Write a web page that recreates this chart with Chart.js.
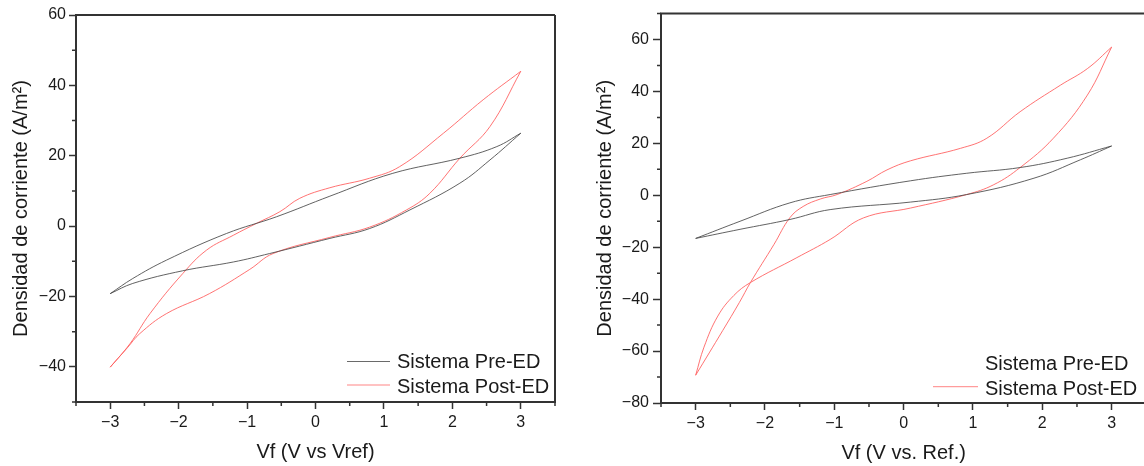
<!DOCTYPE html>
<html><head><meta charset="utf-8">
<script src="https://cdn.jsdelivr.net/npm/chart.js@4/dist/chart.umd.min.js"></script>
<style>
html,body{margin:0;padding:0;background:#fff;overflow:hidden;width:1144px;height:466px;position:relative;}
#c1{position:absolute;left:0;top:0;}
#c2{position:absolute;left:580px;top:0;}
</style></head><body>
<canvas id="c1" width="572" height="466"></canvas>
<canvas id="c2" width="580" height="466"></canvas>
<script>
// ---------- data ----------
const seriesNames = ['Sistema Pre-ED', 'Sistema Post-ED'];

// Left panel: Vf (V vs Vref) / current density (A/m2), closed CV loops
const leftPreV  = [-3, -2.67, -2.18, -1.30, -0.57, 0.21, 1.13, 2.11, 2.65, 3, 2.55, 2.11, 1.38, 0.79, 0.21, -0.67, -1.20, -1.94, -2.67, -3];
const leftPreJ  = [-19.2, -14.9, -9.7, -2.1, 2.65, 8.5, 15.0, 19.3, 22.6, 26.4, 18.8, 12.2, 4.6, -0.7, -3.5, -7.8, -10.2, -12.7, -16.3, -19.2];
const leftPostV = [-3, -2.71, -2.42, -1.94, -1.59, -1.20, -0.86, -0.52, -0.23, 0.21, 0.79, 1.23, 1.87, 2.45, 3, 2.55, 2.11, 1.67, 1.33, 0.79, 0.21, -0.62, -0.96, -1.55, -2.18, -2.57, -2.75, -3];
const leftPostJ = [-40.1, -33.4, -24.9, -13.5, -6.8, -2.6, 0.8, 4.1, 7.9, 10.9, 13.6, 16.9, 26.4, 35.9, 44.0, 28.3, 19.3, 9.3, 4.6, -0.3, -3.2, -7.8, -12.3, -19.2, -24.9, -30.6, -34.6, -40.1];

// Right panel: Vf (V vs. Ref.)
const rightPreV  = [-3, -2.36, -1.64, -1.06, 0.10, 0.91, 1.68, 2.36, 3, 2.55, 1.88, 0.91, 0.10, -1.06, -1.64, -2.36, -3];
const rightPreJ  = [-16.6, -10.0, -2.9, 0.3, 5.6, 8.5, 10.7, 14.3, 19.0, 13.7, 6.6, 0.3, -2.6, -5.5, -9.3, -13.1, -16.6];
const rightPostV = [-3, -2.61, -2.37, -2.21, -1.87, -1.64, -1.45, -1.20, -0.96, -0.53, -0.24, 0.10, 0.82, 1.20, 1.68, 2.26, 2.65, 3, 2.65, 2.16, 1.68, 1.30, 0.91, 0.10, -0.58, -1.06, -1.54, -2.21, -2.45, -2.68, -2.88, -3];
const rightPostJ = [-69.3, -52.1, -41.3, -33.6, -18.9, -8.6, -4.3, -1.4, 0.3, 5.4, 9.8, 13.3, 18.1, 22.0, 32.2, 42.4, 48.8, 57.1, 38.6, 22.0, 10.7, 4.1, 0.3, -4.9, -8.7, -17.0, -24.0, -33.6, -38.6, -46.5, -58.5, -69.3];

// ticks
const xMajor = [-3, -2, -1, 0, 1, 2, 3];
const xMinor = [-3.5, -2.5, -1.5, -0.5, 0.5, 1.5, 2.5, 3.5];
const leftYMajor = [-40, -20, 0, 20, 40, 60];
const leftYMinor = [-50, -30, -10, 10, 30, 50];
const rightYMajor = [-80, -60, -40, -20, 0, 20, 40, 60];
const rightYMinor = [-70, -50, -30, -10, 10, 30, 50, 70];

// ---------- drawing ----------
const FONT = '"Liberation Sans", Arial, Helvetica, sans-serif';
const AXIS = '#333333';
const TEXT = '#1a1a1a';
const seriesColors = ['rgba(70,70,70,0.85)', 'rgba(255,90,90,0.85)'];
const legendColors = ['rgba(90,90,90,0.9)', 'rgba(255,120,120,0.9)'];

function fmt(v) { return v < 0 ? '\u2212' + Math.abs(v) : String(v); }

function splitLoop(V, J) {
  const pts = V.map((v, i) => ({ x: v, y: J[i] }));
  let k = 0;
  V.forEach((v, i) => { if (v > V[k]) k = i; });
  return [pts.slice(0, k + 1), pts.slice(k)];
}

function makeDatasets(loops) {
  const ds = [];
  loops.forEach((lp, s) => {
    splitLoop(lp[0], lp[1]).forEach(branch => {
      ds.push({
        label: seriesNames[s], data: branch, showLine: true, fill: false,
        borderColor: seriesColors[s], borderWidth: 1, pointRadius: 0, tension: 0.4
      });
    });
  });
  return ds;
}

function decorPlugin(p) {
  return {
    id: 'decor',
    afterDraw(chart) {
      const ctx = chart.ctx, a = chart.chartArea;
      const xs = chart.scales.x, ys = chart.scales.y;
      ctx.save();
      // minor ticks
      ctx.strokeStyle = AXIS; ctx.lineWidth = 1.5;
      ctx.beginPath();
      xMinor.forEach(v => { const px = xs.getPixelForValue(v); ctx.moveTo(px, a.bottom); ctx.lineTo(px, a.bottom + 4); });
      p.yMinor.forEach(v => { const py = ys.getPixelForValue(v); ctx.moveTo(a.left, py); ctx.lineTo(a.left - 4, py); });
      ctx.stroke();
      // frame
      ctx.lineWidth = 2;
      ctx.beginPath();
      ctx.moveTo(a.left - 1, a.top); ctx.lineTo(a.right, a.top);
      if (p.rightBorder) { ctx.moveTo(a.right, a.top); ctx.lineTo(a.right, a.bottom); }
      ctx.stroke();
      // legend
      ctx.font = '20px ' + FONT;
      ctx.textBaseline = 'alphabetic';
      ctx.textAlign = 'left';
      seriesNames.forEach((name, i) => {
        if (p.legendLine[i]) {
          ctx.strokeStyle = legendColors[i]; ctx.lineWidth = 1;
          ctx.beginPath();
          ctx.moveTo(p.legX, p.legLineY[i]); ctx.lineTo(p.legX + p.legLen, p.legLineY[i]);
          ctx.stroke();
        }
        ctx.fillStyle = TEXT;
        ctx.fillText(name, p.legTextX, p.legBase[i]);
      });
      ctx.restore();
    }
  };
}

function makePanel(id, p) {
  new Chart(document.getElementById(id), {
    type: 'scatter',
    data: { datasets: makeDatasets(p.loops) },
    options: {
      responsive: false, animation: false, devicePixelRatio: 1,
      layout: { padding: { top: p.padTop, right: p.padRight, left: 0, bottom: 0 } },
      plugins: { legend: { display: false }, tooltip: { enabled: false } },
      scales: {
        x: {
          type: 'linear', min: -3.5, max: 3.5,
          afterBuildTicks: s => { s.ticks = xMajor.map(v => ({ value: v })); },
          afterFit: s => { s.height = p.xHeight; },
          ticks: { font: { family: FONT, size: 16 }, color: TEXT, padding: 4, callback: fmt, maxRotation: 0, autoSkip: false },
          grid: { drawOnChartArea: false, drawTicks: true, tickLength: 7, tickColor: AXIS, tickWidth: 1.5 },
          border: { display: true, color: AXIS, width: 2 },
          title: { display: true, text: p.xTitle, font: { family: FONT, size: 20 }, color: TEXT, padding: { top: 0, bottom: p.xTitlePad } }
        },
        y: {
          type: 'linear', min: p.yMin, max: p.yMax,
          afterBuildTicks: s => { s.ticks = p.yMajor.map(v => ({ value: v })); },
          afterFit: s => { s.width = p.yWidth; },
          ticks: { font: { family: FONT, size: 16 }, color: TEXT, padding: p.yTickPad, callback: fmt, autoSkip: false },
          grid: { drawOnChartArea: false, drawTicks: true, tickLength: p.yTickLen, tickColor: AXIS, tickWidth: 1.5 },
          border: { display: true, color: AXIS, width: 2 },
          title: { display: true, text: 'Densidad de corriente (A/m\u00B2)', font: { family: FONT, size: 20 }, color: TEXT, padding: { top: p.yTitlePad, bottom: 0 } }
        }
      }
    },
    plugins: [decorPlugin(p)]
  });
}

makePanel('c1', {
  loops: [[leftPreV, leftPreJ], [leftPostV, leftPostJ]],
  yMin: -50, yMax: 60, yMajor: leftYMajor, yMinor: leftYMinor,
  padTop: 15, padRight: 17, xHeight: 64, yWidth: 76,
  yTickPad: 3, yTickLen: 7, yTitlePad: 9.5, xTitlePad: 1.5,
  xTitle: 'Vf (V vs Vref)', rightBorder: true,
  legX: 347, legLen: 43, legTextX: 397, legLineY: [361.5, 385], legBase: [368, 392.5], legendLine: [true, true]
});

makePanel('c2', {
  loops: [[rightPreV, rightPreJ], [rightPostV, rightPostJ]],
  yMin: -80, yMax: 70, yMajor: rightYMajor, yMinor: rightYMinor,
  padTop: 11.7, padRight: 13.7, xHeight: 63, yWidth: 81,
  yTickPad: 4, yTickLen: 8, yTitlePad: 13, xTitlePad: 1,
  xTitle: 'Vf (V vs. Ref.)', rightBorder: false,
  legX: 353, legLen: 45, legTextX: 405, legLineY: [363, 386.7], legBase: [370, 395], legendLine: [false, true]
});
</script></body></html>
